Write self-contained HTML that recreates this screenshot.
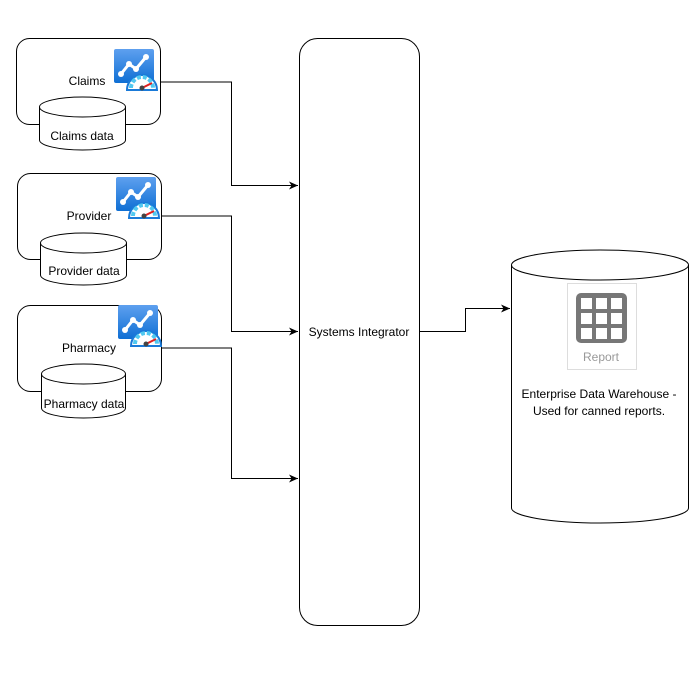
<!DOCTYPE html>
<html><head><meta charset="utf-8"><style>
html,body{margin:0;padding:0;background:#fff}
svg{display:block}
text{font-family:"Liberation Sans",Arial,sans-serif;font-size:12px;fill:#000}
</style></head><body>
<svg width="699" height="699" viewBox="0 0 699 699" xmlns="http://www.w3.org/2000/svg">
<defs>
<marker id="ar" markerWidth="10" markerHeight="10" refX="9" refY="5" orient="auto" markerUnits="userSpaceOnUse">
<path d="M0,1 L9,5 L0,9 L2.5,5 Z" fill="#000"/>
</marker>
<linearGradient id="bl" x1="0" y1="0" x2="0" y2="1"><stop offset="0" stop-color="#5ea0ef"/><stop offset="1" stop-color="#0f6fd4"/></linearGradient>
<g id="icon">
<rect x="0" y="0" width="40" height="34" rx="2" fill="url(#bl)"/>
<polyline points="7,25 15,15 22,20 32,8" fill="none" stroke="#fff" stroke-width="3"/>
<circle cx="7" cy="25" r="3" fill="#fff"/><circle cx="15" cy="15" r="3" fill="#fff"/><circle cx="22" cy="20" r="3" fill="#fff"/><circle cx="32" cy="8" r="3" fill="#fff"/>
<path d="M13,41 A15,15 0 0 1 43,41 Z" fill="#fff" stroke="#1a7ad8" stroke-width="2"/>
<path d="M17,39 A11,11 0 0 1 39,39" fill="none" stroke="#50c8f0" stroke-width="4" stroke-dasharray="4 2"/>
<line x1="28" y1="39" x2="38" y2="34" stroke="#e02020" stroke-width="2"/>
<circle cx="28" cy="39" r="2.5" fill="#444"/>
</g>
</defs>
<g fill="none" stroke="#000" stroke-width="1">
<!-- boxes -->
<rect x="16.5" y="38.5" width="144" height="86" rx="13"/>
<rect x="17.5" y="173.5" width="144" height="86" rx="13"/>
<rect x="17.5" y="305.5" width="144" height="86" rx="13"/>
<rect x="299.5" y="38.5" width="120" height="587" rx="18"/>
</g>
<!-- data cylinders -->
<g stroke="#000" fill="#fff">
<path d="M39.5,107 A43,10 0 0 1 125.5,107 L125.5,140 A43,10 0 0 1 39.5,140 Z"/>
<path d="M39.5,107 A43,10 0 0 0 125.5,107" fill="none"/>
<path d="M40.5,243 A43,10 0 0 1 126.5,243 L126.5,275 A43,10 0 0 1 40.5,275 Z"/>
<path d="M40.5,243 A43,10 0 0 0 126.5,243" fill="none"/>
<path d="M41.5,374 A42,10 0 0 1 125.5,374 L125.5,408 A42,10 0 0 1 41.5,408 Z"/>
<path d="M41.5,374 A42,10 0 0 0 125.5,374" fill="none"/>
<path d="M511.5,265 A88.5,15 0 0 1 688.5,265 L688.5,508 A88.5,15 0 0 1 511.5,508 Z"/>
<path d="M511.5,265 A88.5,15 0 0 0 688.5,265" fill="none"/>
</g>
<use href="#icon" x="114" y="49"/>
<use href="#icon" x="116" y="177"/>
<use href="#icon" x="118" y="305"/>
<!-- connectors -->
<g fill="none" stroke="#000" stroke-width="1">
<polyline points="160,82 231.5,82 231.5,185.5 298,185.5" marker-end="url(#ar)"/>
<polyline points="162,216 231.5,216 231.5,331.5 298,331.5" marker-end="url(#ar)"/>
<polyline points="162,348 231.5,348 231.5,478.5 298,478.5" marker-end="url(#ar)"/>
<polyline points="419,331.5 465.5,331.5 465.5,308.5 510,308.5" marker-end="url(#ar)"/>
</g>
<!-- labels -->
<text x="87" y="85" text-anchor="middle">Claims</text>
<text x="82" y="140" text-anchor="middle">Claims data</text>
<text x="89" y="220" text-anchor="middle">Provider</text>
<text x="84" y="275" text-anchor="middle">Provider data</text>
<text x="89" y="352" text-anchor="middle">Pharmacy</text>
<text x="84" y="408" text-anchor="middle">Pharmacy data</text>
<text x="359" y="336" text-anchor="middle">Systems Integrator</text>
<!-- report card -->
<rect x="567.5" y="283.5" width="69" height="86" fill="#fff" stroke="#ddd"/>
<rect x="576" y="293" width="51" height="50" rx="5" fill="#777"/>
<g fill="#fff">
<rect x="581" y="298" width="11" height="11"/><rect x="596" y="298" width="11" height="11"/><rect x="611" y="298" width="11" height="11"/>
<rect x="581" y="313" width="11" height="11"/><rect x="596" y="313" width="11" height="11"/><rect x="611" y="313" width="11" height="11"/>
<rect x="581" y="328" width="11" height="11"/><rect x="596" y="328" width="11" height="11"/><rect x="611" y="328" width="11" height="11"/>
</g>
<text x="601" y="361" text-anchor="middle" style="fill:#999">Report</text>
<text x="599" y="398" text-anchor="middle">Enterprise Data Warehouse -</text>
<text x="599" y="415" text-anchor="middle">Used for canned reports.</text>
</svg>
</body></html>
